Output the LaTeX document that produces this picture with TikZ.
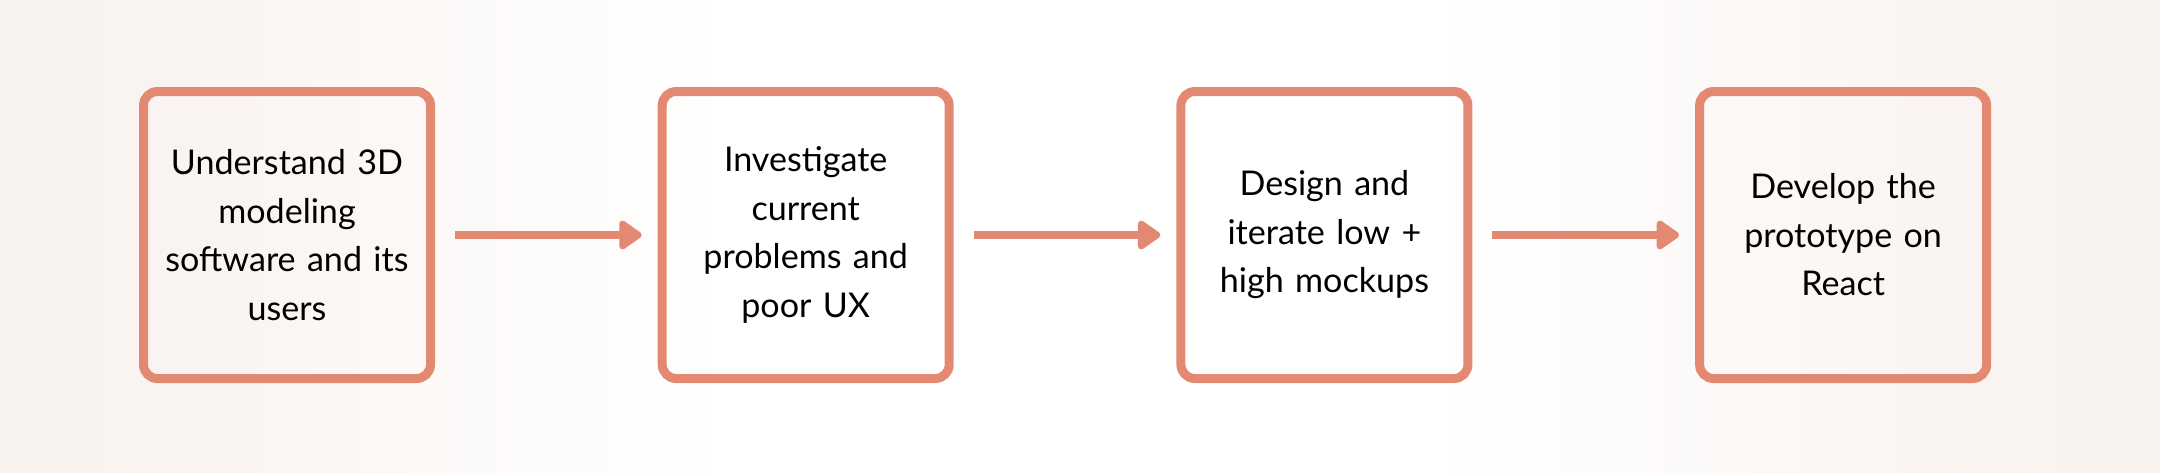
\documentclass[tikz,border=0pt]{standalone}
\usepackage{fontspec}
\setmainfont{Lato}
\usepackage{tikz}
\usetikzlibrary{arrows.meta,positioning}
\definecolor{stepline}{RGB}{227,137,113}
\definecolor{bgedge}{RGB}{243,232,225}
\pgfdeclarehorizontalshading{bgglow}{100bp}{color(0bp)=(bgedge); color(30bp)=(bgedge!45!white); color(42bp)=(white); color(58bp)=(white); color(70bp)=(bgedge!45!white); color(100bp)=(bgedge)}

\begin{document}
\begin{tikzpicture}[node distance=2.227cm,
  b/.style={draw=stepline,line width=0.09cm,rounded corners=0.14cm,minimum width=2.87cm,minimum height=2.87cm,
    text width=2.55cm,align=center,font=\fontsize{9.7}{13.8}\selectfont},
  a/.style={-{Triangle[length=0.25cm,width=0.33cm,round]},line width=0.08cm,draw=stepline,
    shorten <=0.2cm,shorten >=0.16cm}]
  \shade[shading=bgglow] (0,0) rectangle (21.6,4.72);
  \useasboundingbox (0,0) rectangle (21.6,4.72);
  \node[b] (u) at (2.87,2.37) {Understand 3D\\modeling\\software and its\\users};
  \node[b,right=of u] (i) {Investigate\\current\\problems and\\poor UX};
  \node[b,right=of i] (d) {Design and\\iterate low +\\high mockups};
  \node[b,right=of d] (p) {Develop the\\prototype on\\React};
  \draw[a] (u)--(i); \draw[a] (i)--(d); \draw[a] (d)--(p);
\end{tikzpicture}
\end{document}
